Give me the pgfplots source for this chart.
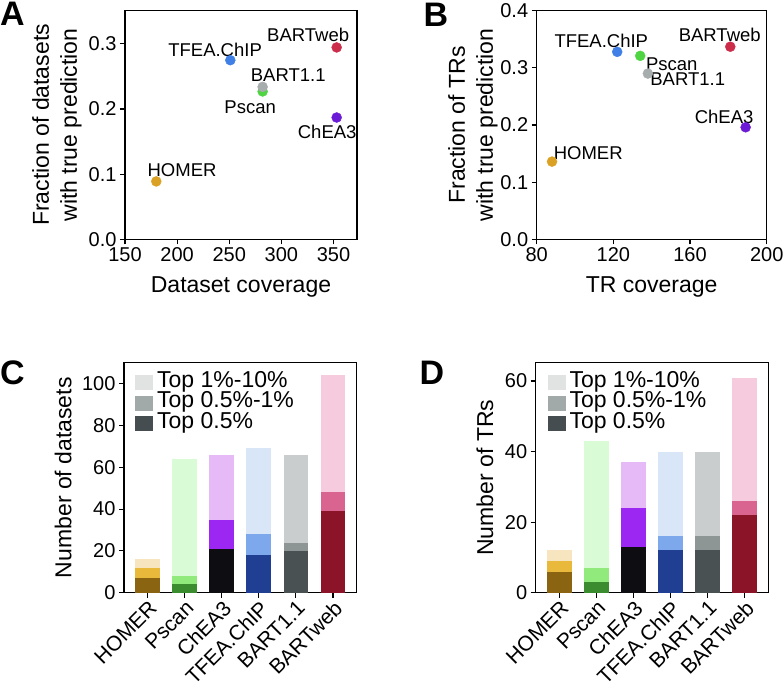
\documentclass[border=0pt]{standalone}
\usepackage{fontspec}
\setmainfont{Liberation Sans}
\usepackage{pgfplots}
\pgfplotsset{compat=1.18}
% scatter colours
\definecolor{cHOMER}{HTML}{DBA124}
\definecolor{cTFEA}{HTML}{3F7FE6}
\definecolor{cBART}{HTML}{A7ACAD}
\definecolor{cPscan}{HTML}{4FD442}
\definecolor{cBARTweb}{HTML}{CC2D4B}
\definecolor{cChEA}{HTML}{6B1AD6}
% bar colours
\definecolor{homerD}{HTML}{8A6410}\definecolor{homerM}{HTML}{E8B93A}\definecolor{homerL}{HTML}{F6E5BE}
\definecolor{pscanD}{HTML}{3B8C2E}\definecolor{pscanM}{HTML}{90EB7C}\definecolor{pscanL}{HTML}{D9FBD5}
\definecolor{cheaD}{HTML}{0E0E12}\definecolor{cheaM}{HTML}{9C26F2}\definecolor{cheaL}{HTML}{E5BAF7}
\definecolor{tfeaD}{HTML}{213F92}\definecolor{tfeaM}{HTML}{7DA8EC}\definecolor{tfeaL}{HTML}{D8E6F7}
\definecolor{bartD}{HTML}{495152}\definecolor{bartM}{HTML}{8D9595}\definecolor{bartL}{HTML}{C9CDCD}
\definecolor{webD}{HTML}{8B1428}\definecolor{webM}{HTML}{D9648F}\definecolor{webL}{HTML}{F6CBDE}
\definecolor{legL}{HTML}{E1E3E3}\definecolor{legM}{HTML}{A1A9A9}\definecolor{legD}{HTML}{454D51}
\newcommand{\tkf}{\fontsize{20}{22}\selectfont}
\newcommand{\rlf}{\fontsize{21}{23}\selectfont}
\newcommand{\lgf}{\fontsize{23}{25}\selectfont}
\tikzset{ann/.style={font=\fontsize{18.5}{20}\selectfont, inner sep=0pt, anchor=center}}
\pgfplotsset{
  myaxis/.style={
    scale only axis,
    axis line style={line width=1.1pt},
    every tick/.style={line width=1.1pt, black},
    major tick length=5pt,
    tick align=outside, tick pos=left,
    /pgf/number format/assume math mode=true,
    tick label style={font=\tkf},
    label style={font=\fontsize{23}{28}\selectfont, align=center},
    clip=false,
  },
  dotp/.style={only marks, mark=*, mark size=5pt, mark options={draw=#1, fill=#1}},
  bb/.style={ybar, bar width=0.67, bar shift=0pt, draw=none, fill=#1, forget plot},
  barax/.style={
    myaxis,
    xmin=-0.64, xmax=5.64, ymin=0,
    xtick={0,1,2,3,4,5},
    xticklabels={{\rlf HOMER},{\rlf Pscan},{\rlf ChEA3},{\rlf TFEA.ChIP},{\rlf BART1.1},{\rlf BARTweb}},
    xticklabel style={rotate=45, anchor=north east, inner sep=1pt, font=\rlf},
    yticklabel={\tkf\pgfmathprintnumber{\tick}},
    legend image code/.code={\fill[##1] (0pt,-7.5pt) rectangle (18pt,7.5pt);},
    legend style={draw=none, fill=none, font=\lgf,
      nodes={font=\lgf, inner sep=0pt, text height=13pt, text depth=3.5pt},
      row sep=4pt, column sep=4pt, inner sep=0pt, cells={anchor=west}},
  },
}
\begin{document}
\begin{tikzpicture}
\useasboundingbox (0,0) rectangle (784pt,-690pt);
% Panel A
\begin{axis}[myaxis, at={(125pt,-239.3pt)}, anchor=south west,
  width=232pt, height=228.6pt,
  xmin=150, xmax=372.5, ymin=0, ymax=0.351,
  xtick={150,200,250,300,350}, ytick={0,0.1,0.2,0.3},
  xticklabel={\tkf\pgfmathprintnumber{\tick}},
  yticklabel={\tkf\pgfmathprintnumber[fixed, fixed zerofill, precision=1]{\tick}},
  xlabel={Dataset coverage},
  ylabel={Fraction of datasets\\with true prediction},
  xlabel style={at={(axis description cs:0.5,-0.21)}, anchor=center},
  ylabel style={at={(axis description cs:-0.293,0.5)}, anchor=center},
]
\addplot[dotp=cHOMER] coordinates {(180,0.0889)};
\addplot[dotp=cTFEA] coordinates {(251,0.275)};
\addplot[dotp=cPscan] coordinates {(282,0.227)};
\addplot[dotp=cBART] coordinates {(282,0.234)};
\addplot[dotp=cBARTweb] coordinates {(353,0.2946)};
\addplot[dotp=cChEA] coordinates {(353,0.187)};
\node[ann] at (325.7,0.314) {BARTweb};
\node[ann] at (236.4,0.291) {TFEA.ChIP};
\node[ann] at (306.5,0.252) {BART1.1};
\node[ann] at (270,0.203) {Pscan};
\node[ann] at (343.9,0.165) {ChEA3};
\node[ann] at (204.7,0.106) {HOMER};
\end{axis}
% Panel B
\begin{axis}[myaxis, at={(536.7pt,-239.3pt)}, anchor=south west,
  width=230pt, height=228.6pt,
  xmin=80, xmax=200, ymin=0, ymax=0.4,
  xtick={80,120,160,200}, ytick={0,0.1,0.2,0.3,0.4},
  xticklabel={\tkf\pgfmathprintnumber{\tick}},
  yticklabel={\tkf\pgfmathprintnumber[fixed, fixed zerofill, precision=1]{\tick}},
  xlabel={TR coverage},
  ylabel={Fraction of TRs\\with true prediction},
  xlabel style={at={(axis description cs:0.5,-0.21)}, anchor=center},
  ylabel style={at={(axis description cs:-0.277,0.5)}, anchor=center},
]
\addplot[dotp=cHOMER] coordinates {(88,0.136)};
\addplot[dotp=cTFEA] coordinates {(122,0.328)};
\addplot[dotp=cPscan] coordinates {(134,0.321)};
\addplot[dotp=cBART] coordinates {(138,0.290)};
\addplot[dotp=cBARTweb] coordinates {(181,0.337)};
\addplot[dotp=cChEA] coordinates {(189,0.196)};
\node[ann] at (113.7,0.348) {TFEA.ChIP};
\node[ann] at (175.5,0.358) {BARTweb};
\node[ann] at (150.5,0.306) {Pscan};
\node[ann] at (158.8,0.280) {BART1.1};
\node[ann] at (177.8,0.214) {ChEA3};
\node[ann] at (106.9,0.150) {HOMER};
\end{axis}
% Panel C
\begin{axis}[barax, at={(124pt,-592.7pt)}, anchor=south west,
  width=232.7pt, height=230pt,
  ymax=110, ytick={0,20,40,60,80,100},
  ylabel={Number of datasets},
  ylabel style={at={(axis description cs:-0.262,0.5)}, anchor=center},
  legend style={at={(axis description cs:0.047,0.95)}, anchor=north west},
]
\addlegendimage{fill=legL, draw=none}\addlegendentry{Top 1\%-10\%}
\addlegendimage{fill=legM, draw=none}\addlegendentry{Top 0.5\%-1\%}
\addlegendimage{fill=legD, draw=none}\addlegendentry{Top 0.5\%}
\addplot[bb=homerL] coordinates {(0,16)};
\addplot[bb=homerM] coordinates {(0,12)};
\addplot[bb=homerD] coordinates {(0,7)};
\addplot[bb=pscanL] coordinates {(1,64)};
\addplot[bb=pscanM] coordinates {(1,8)};
\addplot[bb=pscanD] coordinates {(1,4)};
\addplot[bb=cheaL] coordinates {(2,66)};
\addplot[bb=cheaM] coordinates {(2,35)};
\addplot[bb=cheaD] coordinates {(2,21)};
\addplot[bb=tfeaL] coordinates {(3,69)};
\addplot[bb=tfeaM] coordinates {(3,28)};
\addplot[bb=tfeaD] coordinates {(3,18)};
\addplot[bb=bartL] coordinates {(4,66)};
\addplot[bb=bartM] coordinates {(4,24)};
\addplot[bb=bartD] coordinates {(4,20)};
\addplot[bb=webL] coordinates {(5,104)};
\addplot[bb=webM] coordinates {(5,48)};
\addplot[bb=webD] coordinates {(5,39)};
\end{axis}
% Panel D
\begin{axis}[barax, at={(535.7pt,-592.7pt)}, anchor=south west,
  width=232.6pt, height=230pt,
  ymax=65.2, ytick={0,20,40,60},
  ylabel={Number of TRs},
  ylabel style={at={(axis description cs:-0.218,0.5)}, anchor=center},
  legend style={at={(axis description cs:0.05,0.95)}, anchor=north west},
]
\addlegendimage{fill=legL, draw=none}\addlegendentry{Top 1\%-10\%}
\addlegendimage{fill=legM, draw=none}\addlegendentry{Top 0.5\%-1\%}
\addlegendimage{fill=legD, draw=none}\addlegendentry{Top 0.5\%}
\addplot[bb=homerL] coordinates {(0,12)};
\addplot[bb=homerM] coordinates {(0,9)};
\addplot[bb=homerD] coordinates {(0,6)};
\addplot[bb=pscanL] coordinates {(1,43)};
\addplot[bb=pscanM] coordinates {(1,7)};
\addplot[bb=pscanD] coordinates {(1,3)};
\addplot[bb=cheaL] coordinates {(2,37)};
\addplot[bb=cheaM] coordinates {(2,24)};
\addplot[bb=cheaD] coordinates {(2,13)};
\addplot[bb=tfeaL] coordinates {(3,40)};
\addplot[bb=tfeaM] coordinates {(3,16)};
\addplot[bb=tfeaD] coordinates {(3,12)};
\addplot[bb=bartL] coordinates {(4,40)};
\addplot[bb=bartM] coordinates {(4,16)};
\addplot[bb=bartD] coordinates {(4,12)};
\addplot[bb=webL] coordinates {(5,61)};
\addplot[bb=webM] coordinates {(5,26)};
\addplot[bb=webD] coordinates {(5,22)};
\end{axis}
% panel letters
\node[font=\fontsize{34}{36}\selectfont\bfseries, inner sep=0pt] at (12.5pt,-14pt) {A};
\node[font=\fontsize{34}{36}\selectfont\bfseries, inner sep=0pt] at (436pt,-15pt) {B};
\node[font=\fontsize{34}{36}\selectfont\bfseries, inner sep=0pt] at (12.5pt,-373pt) {C};
\node[font=\fontsize{34}{36}\selectfont\bfseries, inner sep=0pt] at (432pt,-373pt) {D};
\end{tikzpicture}
\end{document}
